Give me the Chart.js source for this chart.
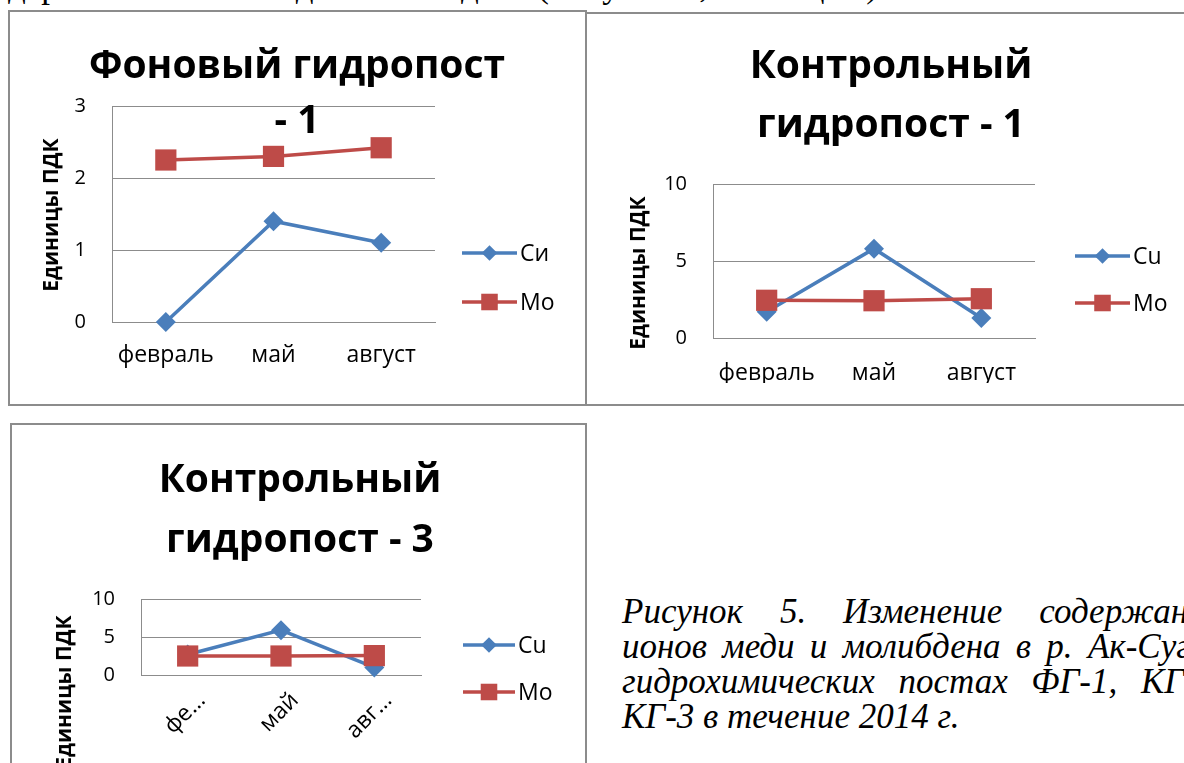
<!DOCTYPE html>
<html><head><meta charset="utf-8">
<script src="https://cdn.jsdelivr.net/npm/chart.js@4.4.1/dist/chart.umd.min.js"></script>
<style>
body{margin:0;width:1184px;height:763px;overflow:hidden;background:#fff;position:relative;font-family:"Open Sans",sans-serif;color:#000}
.box{position:absolute;box-sizing:border-box;border:2px solid #8c8c8c;background:#fff}
canvas{position:absolute}
.ttl{position:absolute;width:600px;margin-left:-300px;text-align:center;font-weight:bold;font-size:39px;line-height:40px;white-space:nowrap}
.ytl{position:absolute;width:240px;margin-left:-120px;margin-top:-14px;text-align:center;font-weight:bold;font-size:21px;line-height:28px;transform:rotate(-90deg);white-space:nowrap}
.ser{position:absolute;font-family:"Liberation Serif",serif;font-size:35px;line-height:35px;white-space:nowrap}
.cap{font-style:italic;width:600px;text-align:justify;text-align-last:justify}
</style></head>
<body>
<div class="ser" style="left:8px;top:-32px">держания ионов меди и молибдена (Рисунок 5, Таблица 4).</div>

<div class="box" style="left:8px;top:10px;width:579px;height:396px"></div>
<div class="box" style="left:585px;top:12px;width:620px;height:394px"></div>
<div class="box" style="left:10px;top:423px;width:577px;height:400px"></div>

<canvas id="c1" width="577" height="393" style="left:8px;top:12px"></canvas>
<canvas id="c2" width="597" height="393" style="left:587px;top:12px"></canvas>
<canvas id="c3" width="577" height="360" style="left:10px;top:424px"></canvas>

<div class="ttl" style="left:297px;top:43px">Фоновый гидропост</div>
<div class="ttl" style="left:297px;top:98px">- 1</div>
<div class="ttl" style="left:891px;top:43px">Контрольный</div>
<div class="ttl" style="left:891px;top:102px">гидропост - 1</div>
<div class="ttl" style="left:300px;top:457px">Контрольный</div>
<div class="ttl" style="left:300px;top:517px">гидропост - 3</div>

<div class="ytl" style="left:50px;top:215px">Единицы ПДК</div>
<div class="ytl" style="left:637px;top:273px">Единицы ПДК</div>
<div class="ytl" style="left:63px;top:692px">Единицы ПДК</div>

<div class="ser cap" style="left:622px;top:594px">Рисунок 5. Изменение содержания</div>
<div class="ser cap" style="left:622px;top:629px;width:618px">ионов меди и молибдена в р. Ак-Суг на</div>
<div class="ser cap" style="left:622px;top:664px">гидрохимических постах ФГ-1, КГ-1,</div>
<div class="ser" style="left:622px;top:699px;font-style:italic">КГ-3 в течение 2014 г.</div>

<script>
// three small line charts: Cu / Mo in units of MPC at three stations, 2014
const months = ["февраль", "май", "август"];
const kg3Ticks = ["фе…", "май", "авг…"];
const fg1Names = ["Си", "Mo"];
const kgNames = ["Cu", "Mo"];
const fg1Cu = [0, 1.4, 1.1];
const fg1Mo = [2.25, 2.3, 2.42];
const kg1Cu = [1.7, 5.8, 1.3];
const kg1Mo = [2.45, 2.42, 2.55];
const kg3Cu = [2.7, 5.9, 1.0];
const kg3Mo = [2.5, 2.5, 2.55];

const BLUE = "#4a7ebb", RED = "#be4b48", GRID = "#8c8c8c", FONT = "Open Sans";
const $ = id => document.getElementById(id);

// Excel-style legend: short line with the marker on it, label to the right
const lineLegend = {
  id: "lineLegend",
  afterDraw(chart, args, o) {
    const ctx = chart.ctx;
    chart.data.datasets.forEach((ds, i) => {
      const y = o.y[i];
      ctx.save();
      ctx.strokeStyle = ds.borderColor; ctx.lineWidth = 3.5;
      ctx.beginPath(); ctx.moveTo(o.x, y); ctx.lineTo(o.x + o.w, y); ctx.stroke();
      ctx.fillStyle = ds.backgroundColor;
      Chart.helpers.drawPoint(ctx, {pointStyle: ds.pointStyle, radius: ds.pointRadius * 0.78, borderWidth: 0, rotation: 0}, o.x + o.w / 2, y);
      ctx.fillStyle = "#000"; ctx.font = "23px " + FONT; ctx.textBaseline = "middle"; ctx.textAlign = "left";
      ctx.fillText(ds.label, o.x + o.w + 3, y + 1);
      ctx.restore();
    });
  }
};

function makeChart(id, c) {
  const ds = (label, data, color, style, r, order) => ({label, data, borderColor: color, backgroundColor: color,
    borderWidth: 3.5, pointStyle: style, pointRadius: r, pointHoverRadius: r, pointBorderWidth: 0, tension: 0, order, clip: false});
  return new Chart($(id), {
    type: "line",
    data: {labels: months, datasets: [
      ds(c.names[0], c.cu, BLUE, "rectRot", 10, 1),
      ds(c.names[1], c.mo, RED, "rect", 15, 0)]},
    options: {responsive: false, animation: false, events: [],
      layout: {padding: c.pad},
      plugins: {legend: {display: false}, tooltip: {enabled: false}, lineLegend: c.leg},
      scales: {
        x: {offset: true, grid: {display: false, drawTicks: false}, border: {display: true, color: GRID},
            ticks: {color: "#000", font: {family: FONT, size: 23}, padding: c.xPad, autoSkip: false,
                    maxRotation: c.rot, minRotation: c.rot, labelOffset: c.lOff || 0,
                    callback: (v, i) => c.ticks ? c.ticks[i] : months[i]},
            afterFit: s => { s.height = c.xH; }},
        y: {min: 0, max: c.max, grid: {color: GRID, lineWidth: 1, drawTicks: false}, border: {display: true, color: GRID},
            ticks: {stepSize: c.step, color: "#000", font: {family: FONT, size: 20}, padding: 26},
            afterFit: s => { s.width = 50; }}
      }},
    plugins: [lineLegend]
  });
}

makeChart("c1", {names: fg1Names, cu: fg1Cu, mo: fg1Mo, max: 3, step: 1, xPad: 20, xH: 50, rot: 0,
  pad: {left: 54, right: 150, top: 94, bottom: 33}, leg: {x: 454, w: 55, y: [241, 290]}});
makeChart("c2", {names: kgNames, cu: kg1Cu, mo: kg1Mo, max: 10, step: 5, xPad: 22, xH: 45, rot: 0,
  pad: {left: 76, right: 149, top: 172, bottom: 22}, leg: {x: 488, w: 55, y: [244, 291]}});
makeChart("c3", {names: kgNames, cu: kg3Cu, mo: kg3Mo, max: 10, step: 5, xPad: 12, xH: 80, rot: 45, lOff: 14,
  ticks: kg3Ticks, pad: {left: 81, right: 166, top: 175, bottom: 29}, leg: {x: 453, w: 52, y: [221, 268]}});
</script>
</body></html>
